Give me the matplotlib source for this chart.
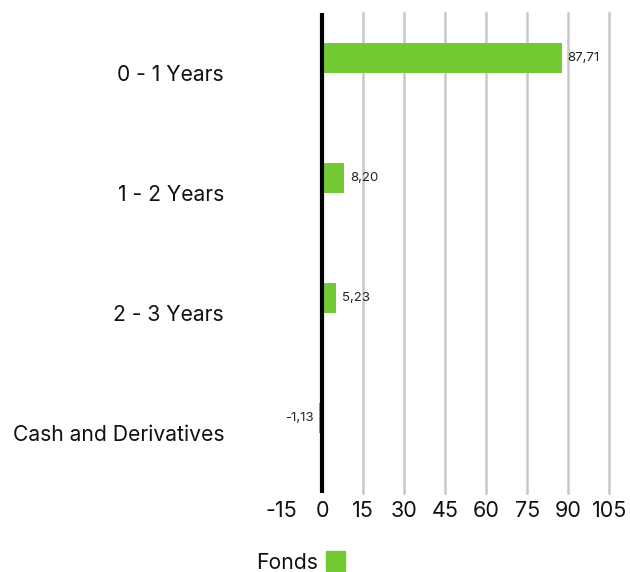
import matplotlib
matplotlib.use("Agg")
import matplotlib.pyplot as plt
from matplotlib.patches import Rectangle

categories = ["0 - 1 Years", "1 - 2 Years", "2 - 3 Years", "Cash and Derivatives"]
fonds = [87.71, 8.20, 5.23, -1.13]
x_ticks = [-15, 0, 15, 30, 45, 60, 75, 90, 105]
series_name = "Fonds"

plt.rcParams["font.family"] = ["Inter", "DejaVu Sans"]
green = "#72c932"

fig = plt.figure(figsize=(6.3, 5.72), dpi=100)
ax = fig.add_axes([0.446, 0.138, 0.521, 0.839])

y = list(range(len(categories)))
ax.barh(y, fonds, height=0.25, align="edge", color=green, zorder=3)
# bars sit above the category centre (inverted axis -> negative offset)
for p in ax.patches:
    p.set_y(p.get_y() - 0.25)

for yi, v in zip(y, fonds):
    label = f"{v:.2f}".replace(".", ",")
    if v >= 0:
        ax.annotate(label, (v, yi - 0.125), xytext=(4, 0), textcoords="offset points",
                    ha="left", va="center", fontsize=9.5, color="#222222")
    else:
        ax.annotate(label, (v, yi - 0.125), xytext=(-4, 0), textcoords="offset points",
                    ha="right", va="center", fontsize=9.5, color="#222222")

ax.set_xlim(-15, 105)
ax.set_ylim(len(categories) - 0.5, -0.5)
ax.set_xticks(x_ticks)
ax.set_xticklabels([str(t) for t in x_ticks], fontsize=15.5)
ax.set_yticks(y)
ax.set_yticklabels(categories, fontsize=15.2)
ax.tick_params(axis="both", length=0, colors="#111111")
ax.tick_params(axis="y", pad=41)
ax.tick_params(axis="x", pad=6)

for t in x_ticks[2:]:
    ax.axvline(t, color="#c8c8c8", lw=1.8, zorder=1, clip_on=False)
ax.axvline(0, color="black", lw=3, zorder=4)

for s in ax.spines.values():
    s.set_visible(False)

# legend: text then swatch
fig.text(318 / 630, 1 - 563 / 572, series_name, ha="right", va="center", fontsize=15.2, color="#111111")
fig.patches.append(Rectangle((326 / 630, 1 - 571 / 572), 19 / 630, 20 / 572,
                             transform=fig.transFigure, color=green))

fig.savefig("out.png", dpi=100)
